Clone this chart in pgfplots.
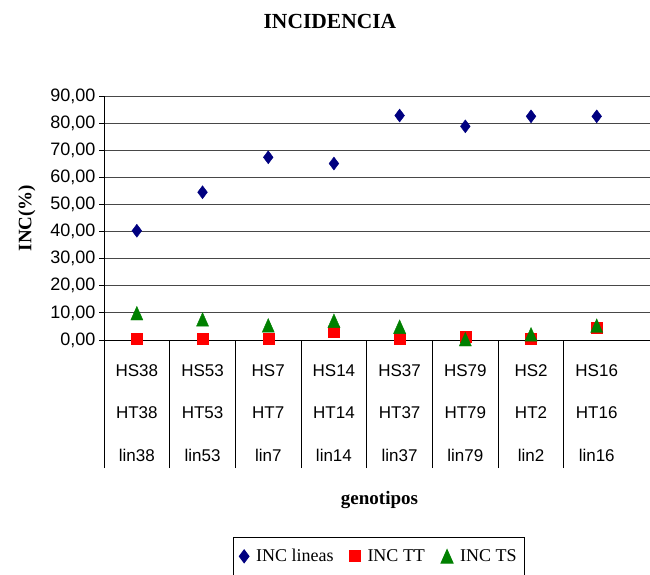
\documentclass[border=0pt]{standalone}
\usepackage{fontspec}
\setmainfont{Liberation Serif}
\newfontfamily\arial{Liberation Sans}
\usepackage{pgfplots}
\pgfplotsset{compat=1.18}
\definecolor{incnavy}{RGB}{0,0,128}
\definecolor{incred}{RGB}{255,0,0}
\definecolor{incgreen}{RGB}{0,128,0}
\begin{document}
\begin{tikzpicture}[x=1pt,y=1pt]
\useasboundingbox (0,0) rectangle (650,575);
\begin{axis}[
  at={(104pt,235pt)}, anchor=south west,
  scale only axis, width=551pt, height=244pt,
  xmin=0.5, xmax=8.887, ymin=0, ymax=90,
  axis x line*=bottom, axis y line*=left,
  axis line style={black, line width=0.9pt},
  ytick={0,10,...,90},
  ymajorgrids, grid style={black!72, line width=0.9pt},
  tick align=outside, major tick length=5pt,
  y tick style={black, line width=0.9pt},
  yticklabel style={font=\arial\fontsize{18}{20}\selectfont},
  /pgf/number format/fixed, /pgf/number format/fixed zerofill,
  /pgf/number format/precision=2, /pgf/number format/use comma,
  /pgf/number format/assume math mode=true,
  xtick={1,...,8},
  xticklabels={{HS38\\HT38\\lin38},{HS53\\HT53\\lin53},{HS7\\HT7\\lin7},
    {HS14\\HT14\\lin14},{HS37\\HT37\\lin37},{HS79\\HT79\\lin79},
    {HS2\\HT2\\lin2},{HS16\\HT16\\lin16}},
  x tick style={draw=none},
  xticklabel style={font=\arial\fontsize{17}{42.5}\selectfont, align=center,
    anchor=north, inner sep=0pt, yshift=-19pt},
  extra x ticks={0.5,1.5,...,7.5},
  extra x tick labels={},
  extra x tick style={major tick length=128pt,
    x tick style={draw=black, line width=0.9pt}, grid=none},
  title={INCIDENCIA},
  title style={font=\bfseries\fontsize{21.5}{24}\selectfont,
    at={(axis description cs:0.41,1.28)}, anchor=center},
  xlabel={genotipos},
  xlabel style={font=\bfseries\fontsize{19}{20}\selectfont,
    at={(axis description cs:0.5,-0.655)}, anchor=center},
  ylabel={INC(\%)},
  ylabel style={font=\bfseries\fontsize{19}{20}\selectfont,
    at={(axis description cs:-0.14,0.5)}, anchor=center},
  legend columns=3,
  legend style={at={(axis description cs:0.499,-0.807)}, anchor=north,
    draw=black, line width=0.9pt, font=\fontsize{18}{20}\selectfont,
    inner ysep=10pt, inner xsep=6pt,
    /tikz/every odd column/.append style={column sep=5pt},
    /tikz/every even column/.append style={column sep=14pt}},
]
\addplot[only marks, mark=diamond*, mark size=6.5pt, color=incnavy]
  coordinates {(1,40.3)(2,54.5)(3,67.4)(4,65.1)(5,82.8)(6,78.8)(7,82.5)(8,82.5)};
\addlegendentry{INC lineas}
\addplot[only marks, mark=square*, mark size=5.5pt, color=incred]
  coordinates {(1,0.3)(2,0.3)(3,0.3)(4,2.9)(5,0.3)(6,1.4)(7,0.3)(8,4.7)};
\addlegendentry{INC TT}
\addplot[only marks, mark=triangle*, mark size=7pt, color=incgreen,
  mark options={yshift=-2.3pt, yscale=1.3}]
  coordinates {(1,9.9)(2,7.6)(3,5.4)(4,7.1)(5,4.9)(6,0.3)(7,2.1)(8,5.3)};
\addlegendentry{INC TS}
\end{axis}
\end{tikzpicture}
\end{document}
